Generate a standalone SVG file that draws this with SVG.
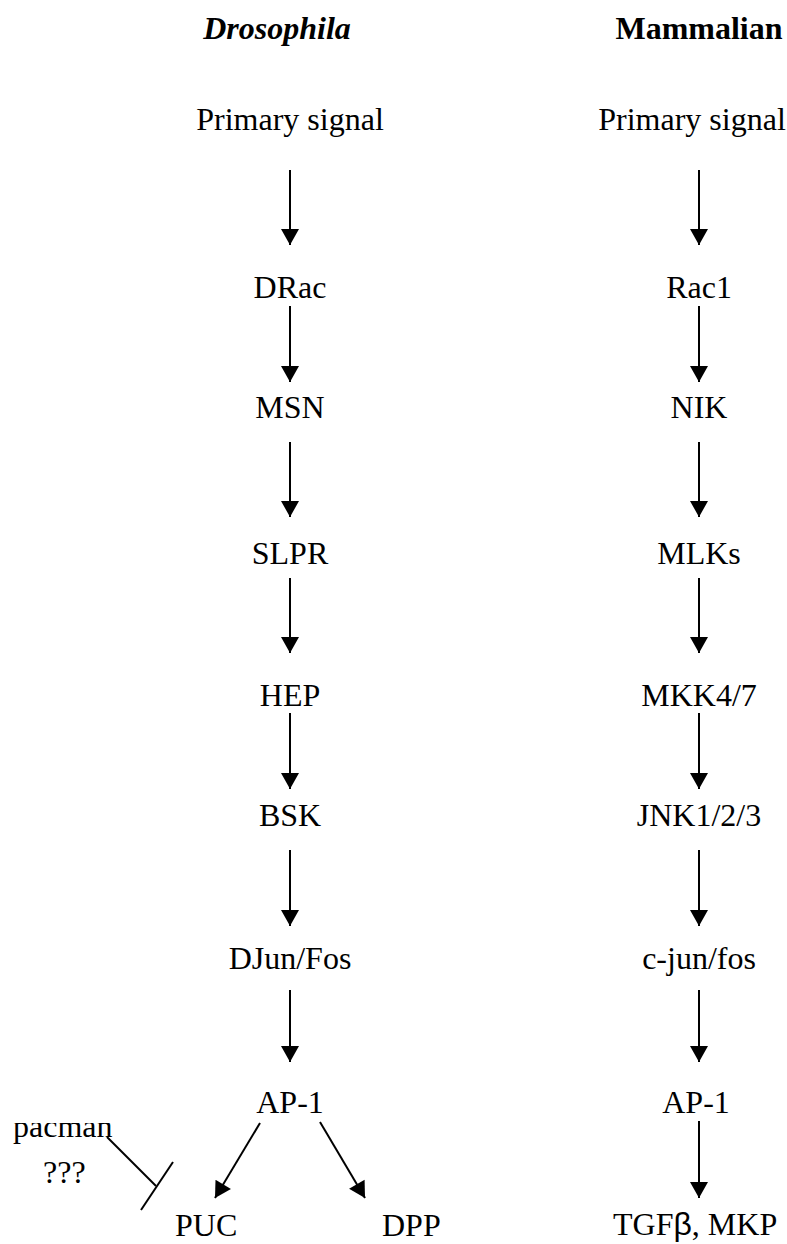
<svg xmlns="http://www.w3.org/2000/svg" width="787" height="1244" viewBox="0 0 787 1244">
<style>
text{font-family:"Liberation Serif","Times New Roman",serif;font-size:32px;fill:#000}
.c{text-anchor:middle}
.title{font-weight:bold}
.conn line{stroke:#000;stroke-width:2;fill:none}
</style>
<defs>
<marker id="ah" markerUnits="userSpaceOnUse" markerWidth="18" markerHeight="18" viewBox="0 0 16 18" refX="16" refY="9" orient="auto">
<path d="M0,0 L16,9 L0,18 Z" fill="#000"/>
</marker>
<clipPath id="pclip"><rect x="0" y="1123" width="200" height="40"/></clipPath>
</defs>
<rect width="787" height="1244" fill="#fff"/>
<g id="title-drosophila"><text class="c title" x="277" y="39" font-style="italic">Drosophila</text></g>
<g id="title-mammalian"><text class="c title" x="699" y="39">Mammalian</text></g>

<g id="d-primary"><text class="c" x="290" y="130">Primary signal</text></g>
<g id="d-drac"><text class="c" x="290" y="298">DRac</text></g>
<g id="d-msn"><text class="c" x="290" y="418">MSN</text></g>
<g id="d-slpr"><text class="c" x="290" y="564">SLPR</text></g>
<g id="d-hep"><text class="c" x="290" y="706">HEP</text></g>
<g id="d-bsk"><text class="c" x="290" y="826">BSK</text></g>
<g id="d-djun"><text class="c" x="290" y="969">DJun/Fos</text></g>
<g id="d-ap1"><text class="c" x="290" y="1113">AP-1</text></g>
<g id="d-puc"><text x="175" y="1236">PUC</text></g>
<g id="d-dpp"><text x="382" y="1236">DPP</text></g>
<g id="d-pacman"><text x="13" y="1137" clip-path="url(#pclip)">pacman</text><text x="43" y="1183">???</text></g>

<g id="m-primary"><text class="c" x="692" y="130">Primary signal</text></g>
<g id="m-rac1"><text class="c" x="699" y="298">Rac1</text></g>
<g id="m-nik"><text class="c" x="699" y="418">NIK</text></g>
<g id="m-mlks"><text class="c" x="699" y="564">MLKs</text></g>
<g id="m-mkk"><text class="c" x="699" y="706">MKK4/7</text></g>
<g id="m-jnk"><text class="c" x="699" y="826">JNK1/2/3</text></g>
<g id="m-cjun"><text class="c" x="699" y="969">c-jun/fos</text></g>
<g id="m-ap1"><text class="c" x="696" y="1113">AP-1</text></g>
<g id="m-tgf"><text x="613" y="1235">TGF<tspan font-family="'Liberation Sans',Arial,sans-serif">β</tspan>, MKP</text></g>

<g id="connectors" class="conn">
<line x1="290" y1="170" x2="290" y2="245" marker-end="url(#ah)"/>
<line x1="290" y1="306" x2="290" y2="382" marker-end="url(#ah)"/>
<line x1="290" y1="442" x2="290" y2="517" marker-end="url(#ah)"/>
<line x1="290" y1="578" x2="290" y2="653" marker-end="url(#ah)"/>
<line x1="290" y1="713" x2="290" y2="789" marker-end="url(#ah)"/>
<line x1="290" y1="850" x2="290" y2="926" marker-end="url(#ah)"/>
<line x1="290" y1="990" x2="290" y2="1062" marker-end="url(#ah)"/>
<line x1="260" y1="1123" x2="215" y2="1198" marker-end="url(#ah)"/>
<line x1="320" y1="1122" x2="365" y2="1198" marker-end="url(#ah)"/>
<line x1="107" y1="1137" x2="156" y2="1186"/>
<line x1="173" y1="1162" x2="141" y2="1210"/>

<line x1="699" y1="170" x2="699" y2="245" marker-end="url(#ah)"/>
<line x1="699" y1="306" x2="699" y2="382" marker-end="url(#ah)"/>
<line x1="699" y1="442" x2="699" y2="517" marker-end="url(#ah)"/>
<line x1="699" y1="578" x2="699" y2="653" marker-end="url(#ah)"/>
<line x1="699" y1="713" x2="699" y2="789" marker-end="url(#ah)"/>
<line x1="699" y1="850" x2="699" y2="926" marker-end="url(#ah)"/>
<line x1="699" y1="990" x2="699" y2="1062" marker-end="url(#ah)"/>
<line x1="699" y1="1121" x2="699" y2="1198" marker-end="url(#ah)"/>
</g>
</svg>
